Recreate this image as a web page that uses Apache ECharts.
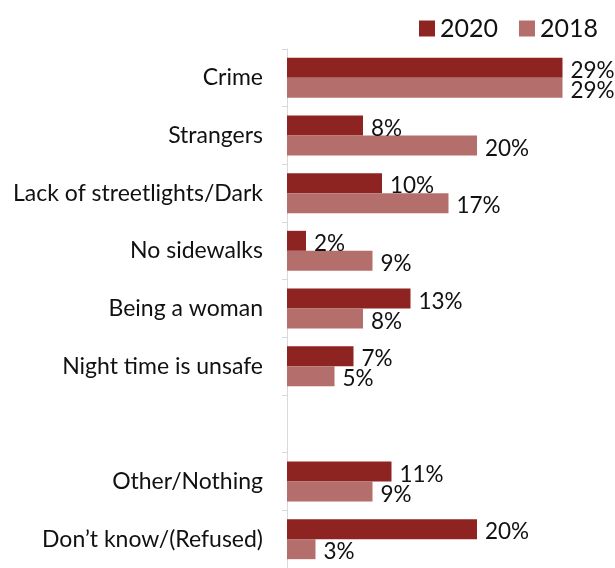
<!DOCTYPE html>
<html>
<head>
<meta charset="utf-8">
<script src="https://cdn.jsdelivr.net/npm/echarts@6/dist/echarts.min.js"></script>
<style>
  html, body { margin: 0; padding: 0; background: #fff; }
  #chart { width: 615px; height: 568px; }
</style>
</head>
<body>
<div id="chart"></div>
<script>
// Reasons for feeling unsafe, share of respondents (%)
const categories = [
  'Crime',
  'Strangers',
  'Lack of streetlights/Dark',
  'No sidewalks',
  'Being a woman',
  'Night time is unsafe',
  '',
  'Other/Nothing',
  'Don\u2019t know/(Refused)'
];
const values2020 = [29, 8, 10, 2, 13, 7, null, 11, 20];
const values2018 = [29, 20, 17, 9, 8, 5, null, 9, 3];
const seriesNames = ['2020', '2018'];

const FONT = 'Lato, "Open Sans", sans-serif';
const colors = ['#8E2421', '#B46E6B'];

const labelOpt = {
  show: true,
  position: 'right',
  distance: 8,
  offset: [0, 3],
  color: '#111',
  fontFamily: FONT,
  fontSize: 22.5,
  formatter: p => (p.value == null ? '' : p.value + '%')
};

const chart = echarts.init(document.getElementById('chart'), null, { renderer: 'canvas' });
chart.setOption({
  animation: false,
  color: colors,
  legend: {
    data: seriesNames,
    left: 414,
    top: 11,
    itemWidth: 16,
    itemHeight: 16,
    itemGap: 21,
    icon: 'rect',
    textStyle: { fontFamily: FONT, fontSize: 25, color: '#111', padding: [0, 0, 0, 0] }
  },
  grid: { left: 287, right: 5, top: 49, bottom: -7, containLabel: false },
  xAxis: {
    type: 'value',
    min: 0,
    max: 34,
    show: false,
    splitLine: { show: false }
  },
  yAxis: {
    type: 'category',
    inverse: true,
    data: categories,
    axisLine: { show: true, lineStyle: { color: '#d9d9d9', width: 1 } },
    axisTick: { show: true, length: 5, lineStyle: { color: '#d9d9d9' } },
    axisLabel: { margin: 24, color: '#111', fontFamily: FONT, fontSize: 23 }
  },
  series: [
    {
      name: seriesNames[0],
      type: 'bar',
      data: values2020,
      barWidth: 20,
      barGap: '0%',
      label: labelOpt
    },
    {
      name: seriesNames[1],
      type: 'bar',
      data: values2018,
      barWidth: 20,
      barGap: '0%',
      label: labelOpt
    }
  ]
});
</script>
</body>
</html>
